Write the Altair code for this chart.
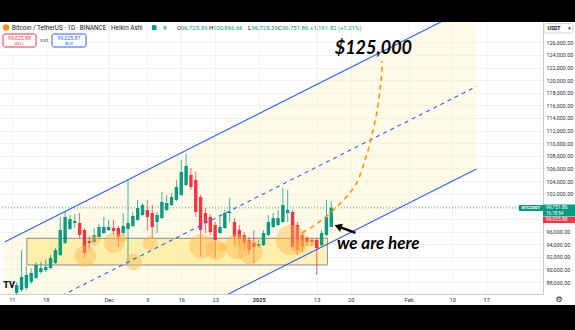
import altair as alt
import pandas as pd

# ---------------- data ----------------
ORIGIN = pd.Timestamp("2024-11-11")
candle_dates = pd.date_range("2024-11-12", "2025-01-16", freq="D").strftime("%Y-%m-%d").tolist()

open_ = [86260, 86730, 87050, 88000, 88630, 89590, 89900, 90220, 91010, 92280,
         94180, 96400, 97350, 97350, 96240, 94500, 94340, 95130, 95770, 96240,
         96560, 96560, 95770, 96400, 96880, 97830, 98620, 99410, 98940, 97510,
         98140, 99410, 100200, 101000, 101790, 103380, 104960, 104170, 101470, 98940,
         98300, 97040, 95770, 96560, 98940, 97510, 96240, 95450, 94660, 94180,
         93710, 93860, 95450, 96720, 97040, 97510, 98940, 99100, 97040, 95450,
         94970, 94660, 94660, 93860, 95450, 96725]
close_ = [87520, 88790, 89110, 89430, 90700, 90220, 90380, 91800, 93070, 96240,
          98300, 97990, 97670, 95450, 92600, 94180, 95450, 96720, 96720, 96720,
          96080, 95130, 96880, 97350, 98460, 99730, 100200, 98300, 96720, 98620,
          100680, 100520, 101470, 103060, 105440, 106390, 103060, 99100, 96240, 97350,
          95930, 94660, 96720, 98940, 99100, 95130, 94970, 94180, 93070, 93550,
          94020, 95770, 97510, 98140, 98140, 100200, 99410, 93550, 93070, 93550,
          94340, 94340, 93390, 95770, 98300, 99752]
high_ = [88000, 93070, 90540, 90220, 91170, 91170, 91490, 92280, 93390, 98300,
         99100, 98620, 98780, 98940, 96560, 95290, 96560, 97190, 98300, 97830,
         97830, 96880, 98940, 104170, 99100, 101000, 100520, 101000, 100200, 99100,
         102270, 101790, 102110, 104170, 107340, 108290, 106070, 105440, 101790, 99730,
         98780, 97510, 98620, 99410, 101310, 98140, 97040, 95930, 95130, 96240,
         94660, 96240, 98620, 98940, 99410, 102900, 102580, 99410, 97510, 95930,
         95290, 94970, 94970, 96240, 101000, 100867]
low_ = [85940, 86420, 86730, 87680, 88480, 89270, 89590, 90060, 90850, 92120,
        94020, 96240, 96560, 94970, 91800, 93070, 94180, 94970, 95610, 96080,
        95450, 93550, 95290, 90700, 96720, 97670, 98460, 96240, 94970, 95770,
        97990, 99250, 100050, 100840, 101630, 103220, 102580, 98300, 91960, 95770,
        95450, 91800, 95610, 96400, 97510, 93860, 93860, 93070, 92280, 91010,
        93390, 93710, 95290, 96560, 96880, 97350, 97510, 93070, 92280, 92760,
        93710, 93710, 89110, 93550, 95290, 96725]

tick_days = [0, 7, 20, 28, 35, 42, 51, 63, 70, 82, 91, 98]
tick_labels = ["11", "18", "Dec", "9", "16", "23", "2025", "13", "20", "Feb", "10", "17"]
price_ticks = list(range(88000, 126001, 2000))
hidden_price_labels = [98000, 100000]  # covered by the live price tags

channel_days = [-1.5, 96.0]
channel_upper = [94356, 132069]
channel_mid = [81280, 118993]
channel_lower = [68203, 105916]

box_days = [3.1, 65.2]
box_prices = [90700, 94930]

circle_days = [15.2, 17.2, 21.1, 22.9, 25.2, 28.6, 39.2, 42.2, 43.4, 46.6, 46.9, 49.3, 57.7, 59.4, 61.7]
circle_prices = [92120, 94660, 94180, 94970, 91170, 94180, 93710, 93070, 93550, 93630, 94180, 92760, 94660, 93630, 94340]
circle_sizes = [441, 100, 400, 64, 256, 196, 576, 400, 64, 625, 100, 576, 900, 196, 64]

path_days = [60.0, 63.5, 67.5, 71.0, 73.0, 74.4, 75.5, 76.1, 76.5, 76.4]
path_prices = [95770, 97510, 100200, 103375, 107340, 111300, 115260, 118750, 121920, 123030]

arrow_days = [71.0, 67.4]
arrow_prices = [95770, 96800]

last_price = 99751.86
target_text = "$125,000"
target_day, target_price = 74.7, 125000
here_text = "we are here"
here_day, here_price = 75.7, 94020

GREEN = "#089981"
RED = "#f23645"
BLUE = "#2962ff"
ORANGE = "#ff9800"
GRID = "#eef1f6"

# ---------------- frames ----------------
cdf = pd.DataFrame({"date": candle_dates, "open": open_, "high": high_, "low": low_, "close": close_})
cdf["d"] = (pd.to_datetime(cdf["date"]) - ORIGIN).dt.days

chan = pd.DataFrame({"d": channel_days, "upper": channel_upper, "mid": channel_mid, "lower": channel_lower})
box = pd.DataFrame({"d0": [box_days[0]], "d1": [box_days[1]], "p0": [box_prices[0]], "p1": [box_prices[1]]})
circ = pd.DataFrame({"d": circle_days, "p": circle_prices, "s": circle_sizes})
path = pd.DataFrame({"d": path_days, "p": path_prices, "o": list(range(len(path_days)))})
arrow = pd.DataFrame({"d": arrow_days, "p": arrow_prices})

xscale = alt.Scale(domain=[-1.42, 108.72], nice=False, zero=False)
yscale = alt.Scale(domain=[86098, 129218], nice=False, zero=False)

label_expr = "[" + ",".join(f"'{t}'" for t in tick_labels) + "][indexof([" + ",".join(str(t) for t in tick_days) + "], datum.value)]"
hide_test = " || ".join(f"datum.value == {v}" for v in hidden_price_labels)
ylabel_expr = f"({hide_test}) ? '' : format(datum.value, ',.2f')"

xaxis = alt.Axis(values=tick_days, labelExpr=label_expr, grid=True, gridColor=GRID, domainColor="#c9ccd3",
                 tickSize=0, labelFontSize=5.6, labelColor="#2a2e39", labelPadding=3, title=None,
                 labelFlush=False, labelOverlap=False, labelFont="Roboto",
                 labelFontWeight={"expr": "datum.value == 51 ? 'bold' : 'normal'"})
yaxis = alt.Axis(values=price_ticks, labelExpr=ylabel_expr, orient="right", grid=True, gridColor=GRID,
                 domainColor="#c9ccd3", tickSize=0, labelFontSize=5.4, labelColor="#2a2e39",
                 labelPadding=3, labelAlign="left", title=None, labelFlush=False, labelOverlap=False,
                 labelFont="Roboto")


def X(f):
    return alt.X(f"{f}:Q", scale=xscale, axis=xaxis)


def Y(f):
    return alt.Y(f"{f}:Q", scale=yscale, axis=yaxis)


color_cond = alt.condition("datum.close >= datum.open", alt.value(GREEN), alt.value(RED))

layers = []
# channel fill
layers.append(alt.Chart(chan).mark_area(clip=True, color="#fff6cc", opacity=0.45).encode(
    x=X("d"), y=Y("lower"), y2="upper"))
# box
layers.append(alt.Chart(box).mark_rect(fill="#fdd835", fillOpacity=0.33, stroke="#8d8d8d", strokeWidth=1).encode(
    x=X("d0"), x2="d1", y=Y("p0"), y2="p1"))
# candles
layers.append(alt.Chart(cdf).mark_rule(strokeWidth=1, opacity=0.75).encode(
    x=X("d"), y=Y("low"), y2="high", color=color_cond))
layers.append(alt.Chart(cdf).mark_bar(size=3.4).encode(
    x=X("d"), y=Y("open"), y2="close", color=color_cond))
# circles
layers.append(alt.Chart(circ).mark_circle(color="#ffb74d", opacity=0.45, stroke="#ffa726", strokeOpacity=0.5, strokeWidth=0.8).encode(
    x=X("d"), y=Y("p"), size=alt.Size("s:Q", scale=None, legend=None)))
# channel lines
layers.append(alt.Chart(chan).mark_line(clip=True, color=BLUE, strokeWidth=1.1).encode(x=X("d"), y=Y("upper")))
layers.append(alt.Chart(chan).mark_line(clip=True, color=BLUE, strokeWidth=1.1).encode(x=X("d"), y=Y("lower")))
layers.append(alt.Chart(chan).mark_line(clip=True, color=BLUE, strokeWidth=1.1, strokeDash=[4, 4]).encode(x=X("d"), y=Y("mid")))
# last price dotted line
layers.append(alt.Chart(pd.DataFrame({"p": [last_price]})).mark_rule(color=GREEN, strokeDash=[1, 2], opacity=0.8).encode(y=Y("p")))
# projected path
layers.append(alt.Chart(path).mark_line(clip=True, color=ORANGE, strokeWidth=1.6, strokeDash=[5, 4], interpolate="catmull-rom").encode(
    x=X("d"), y=Y("p"), order="o:Q"))
# arrow
layers.append(alt.Chart(arrow).mark_line(color="black", strokeWidth=2.4).encode(x=X("d"), y=Y("p")))
layers.append(alt.Chart(arrow.iloc[[1]]).mark_point(shape="triangle-up", filled=True, color="black", opacity=1, size=70, angle=289).encode(
    x=X("d"), y=Y("p")))
# annotations
layers.append(alt.Chart(pd.DataFrame({"d": [target_day], "p": [target_price], "t": [target_text]})).mark_text(
    font="Lato", fontSize=18, fontWeight="bold", fontStyle="italic", color="black", align="center", baseline="middle").encode(
    x=X("d"), y=Y("p"), text="t:N"))
layers.append(alt.Chart(pd.DataFrame({"d": [here_day], "p": [here_price], "t": [here_text]})).mark_text(
    font="Lato", fontSize=17, fontWeight="bold", fontStyle="italic", color="black", align="center", baseline="middle").encode(
    x=X("d"), y=Y("p"), text="t:N"))

TOP = 22  # canvas y of plot top


def one():
    return alt.Data(values=[{"a": 1}])


def deco_text(text, x, y, size, color, weight="normal", align="left", font="Roboto"):
    return alt.Chart(alt.Data(values=[{"t": text}])).mark_text(
        align=align, baseline="middle", fontSize=size, color=color, fontWeight=weight, font=font).encode(
        x=alt.value(x), y=alt.value(y - TOP), text="t:N")


def deco_rect(x0, y0, x1, y1, fill, stroke=None, radius=0, sw=1):
    kw = dict(fill=fill, cornerRadius=radius)
    if stroke:
        kw.update(stroke=stroke, strokeWidth=sw)
    return alt.Chart(one()).mark_rect(**kw).encode(
        x=alt.value(x0), x2=alt.value(x1), y=alt.value(y0 - TOP), y2=alt.value(y1 - TOP))


# header legend
layers.append(alt.Chart(one()).mark_circle(color="#f7931a", opacity=1, size=42).encode(x=alt.value(6), y=alt.value(27.6 - TOP)))
layers.append(deco_text("Bitcoin / TetherUS · 1D · BINANCE · Heikin Ashi", 12, 27.7, 6.3, "#131722"))
layers.append(deco_rect(152, 25.3, 156.5, 30, GREEN))
layers.append(alt.Chart(one()).mark_circle(color=GREEN, opacity=1, size=10, stroke="#b2dfdb", strokeWidth=1.5).encode(x=alt.value(165), y=alt.value(27.7 - TOP)))
ohlc = [("O", 177, "#131722"), ("96,725.39", 181, GREEN), ("H", 209, "#131722"), ("100,866.66", 213, GREEN),
        ("L", 248, "#131722"), ("96,725.39", 251.5, GREEN), ("C", 278, "#131722"), ("99,751.86", 282, GREEN),
        ("+1,191.82 (+1.21%)", 310, GREEN)]
for t, x, c in ohlc:
    layers.append(deco_text(t, x, 27.7, 6.0, c))
layers.append(deco_rect(3, 34, 36, 47, "white", RED, 2))
layers.append(deco_text("99,025.88", 19.5, 38.4, 5.2, RED, align="center"))
layers.append(deco_text("SELL", 19.5, 44, 4.4, RED, align="center"))
layers.append(deco_text("0.01", 44.5, 41, 4.4, "#131722", align="center"))
layers.append(deco_rect(52, 34, 86, 47, "white", BLUE, 2))
layers.append(deco_text("99,025.87", 69, 38.4, 5.2, BLUE, align="center"))
layers.append(deco_text("BUY", 69, 44, 4.4, BLUE, align="center"))

# right scale decorations
layers.append(deco_rect(544, 23.5, 573, 33, "white", "#d1d4dc", 2))
layers.append(deco_text("USDT", 547.5, 28.3, 5.2, "#131722", weight="bold"))
layers.append(deco_text("▾", 569.5, 28.3, 5, "#131722", align="center", font="DejaVu Sans"))
layers.append(deco_rect(519, 205, 543, 211, GREEN))
layers.append(deco_text("BTCUSDT", 531, 208, 4.2, "white", weight="bold", align="center"))
layers.append(deco_rect(543, 204.5, 575, 216.5, GREEN))
layers.append(deco_text("99,751.86", 546, 207.5, 4.9, "white"))
layers.append(deco_text("16:18:54", 546, 213.6, 4.5, "white"))
layers.append(deco_rect(543, 217, 575, 223, RED))
layers.append(deco_text("99,025.88", 546, 220, 4.9, "white"))
layers.append(deco_text("⚙", 559, 299.5, 8, "#131722", align="center", font="DejaVu Sans"))
layers.append(deco_text("TV", 9, 284.5, 9, "#131722", weight=900, align="center"))

# letterbox bars
layers.append(deco_rect(0, 0, 575, 22, "black"))
layers.append(deco_rect(0, 305, 575, 330, "black"))

chart = alt.layer(*layers).properties(
    width=543, height=272,
    padding={"left": 0, "top": 22, "right": 32, "bottom": 36},
    autosize=alt.AutoSizeParams(type="none"),
).configure(background="white", font="Roboto").configure_view(stroke=None)

chart.save("out.html", embed_options={"renderer": "svg", "actions": False})
